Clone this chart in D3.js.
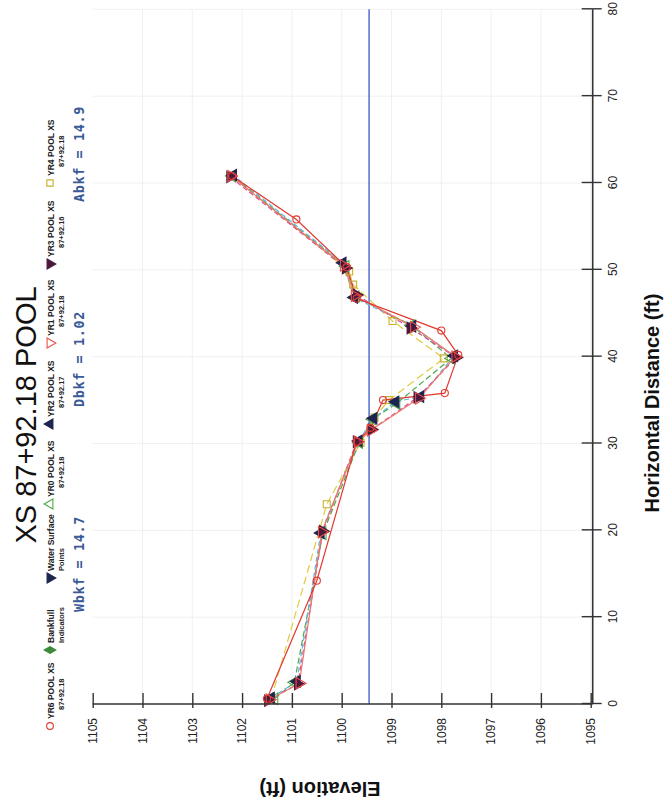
<!DOCTYPE html>
<html><head><meta charset="utf-8">
<script src="https://cdn.jsdelivr.net/npm/d3@7"></script>
<style>body{margin:0;background:#fff}svg{display:block}</style>
</head><body><svg id="c" width="664" height="810"></svg>
<script>
// ---------- data ----------
const distanceTicks = [0, 10, 20, 30, 40, 50, 60, 70, 80];
const elevationTicks = [1095, 1096, 1097, 1098, 1099, 1100, 1101, 1102, 1103, 1104, 1105];

const yr0 = [[0.6,1101.35],[2.5,1100.95],[19.6,1100.38],[30.1,1099.65],[32.8,1099.38],[34.6,1098.9],[39.8,1097.8],[43.6,1098.6],[46.9,1099.72],[50.4,1099.92],[60.8,1102.2]];
const yr1 = [[0.5,1101.45],[2.4,1100.85],[19.8,1100.4],[30.2,1099.68],[31.5,1099.42],[35.2,1098.45],[40.0,1097.72],[43.4,1098.55],[47.0,1099.74],[50.5,1099.96],[60.8,1102.22]];
const yr2 = [[0.7,1101.42],[2.6,1100.9],[19.7,1100.42],[30.3,1099.66],[32.9,1099.36],[34.8,1098.92],[35.4,1098.42],[40.1,1097.74],[43.5,1098.58],[46.8,1099.75],[50.8,1099.98],[60.9,1102.18]];
const yr3 = [[0.4,1101.48],[2.3,1100.88],[19.9,1100.38],[30.2,1099.7],[31.6,1099.4],[35.3,1098.48],[39.9,1097.7],[43.3,1098.62],[47.1,1099.7],[50.2,1099.92],[60.7,1102.24]];
const yr4 = [[0.5,1101.42],[23.0,1100.3],[30.1,1099.62],[33.0,1099.34],[35.0,1099.05],[39.8,1097.95],[44.1,1098.98],[48.3,1099.77],[49.8,1099.85],[60.8,1102.2]];
const yr6 = [[0.6,1101.5],[14.2,1100.5],[30.2,1099.7],[31.8,1099.42],[35.0,1099.17],[35.8,1097.93],[40.2,1097.66],[43.0,1098.0],[46.7,1099.7],[50.3,1099.9],[55.8,1100.91],[60.8,1102.2]];
const waterSurface = [[0,1099.45],[80,1099.45]];
const bankfullIndicators = [];

const legendLine1 = ["YR6 POOL XS","Bankfull","Water Surface","YR0 POOL XS","YR2 POOL XS","YR1 POOL XS","YR3 POOL XS","YR4 POOL XS"];
const legendLine2 = ["87+92.18","Indicators","Points","87+92.18","87+92.17","87+92.18","87+92.16","87+92.18"];
const bkfLabels = ["Wbkf = 14.7","Dbkf = 1.02","Abkf = 14.9"];
const titleText = "XS 87+92.18 POOL";

// ---------- styles / layout ----------
const styles = {
  yr0:{stroke:"#4fa84a", dash:"6,3", sym:d3.symbolTriangle, rot:0, fill:"none", mcol:"#4fa84a"},
  yr1:{stroke:"#f07868", dash:null, sym:d3.symbolTriangle, rot:180, fill:"none", mcol:"#e8504a"},
  yr2:{stroke:"#5ab8e0", dash:"5,3", sym:d3.symbolTriangle, rot:0, fill:"#1c2450", mcol:"#1c2450"},
  yr3:{stroke:"#d84aa0", dash:"5,3", sym:d3.symbolTriangle, rot:180, fill:"#4a1a3c", mcol:"#4a1a3c"},
  yr4:{stroke:"#e0cc40", dash:"8,4", sym:d3.symbolSquare, rot:0, fill:"none", mcol:"#c8b030"},
  yr6:{stroke:"#e23a30", dash:null, sym:d3.symbolCircle, rot:0, fill:"none", mcol:"#e23a30"}
};
const seriesData = {yr0, yr1, yr2, yr3, yr4, yr6};
const drawOrder = ["yr4","yr0","yr2","yr3","yr1","yr6"];

const svg = d3.select("#c");
const g = svg.append("g").attr("transform","translate(0,810) rotate(-90)");

const x = d3.scaleLinear().domain([0,80]).range([106,800.7]);
const y = d3.scaleLinear().domain([1095,1105]).range([590.7,92.7]);
const axisV = 592.7, axisU = 106;

// faint grid
const grid = g.append("g").attr("stroke","#f0f0f0").attr("stroke-width",1);
grid.selectAll("line.h").data(elevationTicks.slice(0,-1)).join("line")
  .attr("x1",axisU).attr("x2",x(80)).attr("y1",d=>y(d)).attr("y2",d=>y(d));
grid.selectAll("line.v").data(distanceTicks.slice(1)).join("line")
  .attr("x1",d=>x(d)).attr("x2",d=>x(d)).attr("y1",y(1105)).attr("y2",axisV);

// water surface
const line = d3.line().x(d=>x(d[0])).y(d=>y(d[1]));
g.append("path").datum(waterSurface).attr("d",line)
  .attr("fill","none").attr("stroke","#4862c8").attr("stroke-width",1.4);

// series lines
drawOrder.forEach(k=>{
  const s = styles[k];
  g.append("path").datum(seriesData[k]).attr("d",line)
    .attr("fill","none").attr("stroke",s.stroke).attr("stroke-width",1.2)
    .attr("stroke-dasharray",s.dash);
});
// markers
drawOrder.forEach(k=>{
  const s = styles[k];
  const sz = s.sym===d3.symbolCircle ? 40 : (s.sym===d3.symbolSquare ? 48 : 56);
  g.append("g").selectAll("path").data(seriesData[k]).join("path")
    .attr("d", d3.symbol().type(s.sym).size(sz))
    .attr("transform", d=>`translate(${x(d[0])},${y(d[1])}) rotate(${s.rot})`)
    .attr("fill", s.fill).attr("stroke", s.mcol).attr("stroke-width",1.1);
});

// axes
const ax = g.append("g").attr("stroke","#333").attr("stroke-width",1.6);
ax.append("line").attr("x1",axisU).attr("x2",axisU).attr("y1",y(1105)).attr("y2",axisV);
ax.append("line").attr("x1",axisU).attr("x2",x(80)).attr("y1",axisV).attr("y2",axisV);

const xAxis = g.append("g").attr("transform",`translate(0,${axisV})`)
  .call(d3.axisBottom(x).tickValues(distanceTicks).tickSize(9).tickSizeOuter(0).tickPadding(7));
xAxis.select(".domain").remove();
xAxis.selectAll(".tick line").attr("y1",-11).attr("stroke","#333").attr("stroke-width",1.4);
xAxis.selectAll(".tick text").attr("font-family","Liberation Sans, Arial, sans-serif")
  .attr("font-size",12).attr("fill","#222");

const yAxis = g.append("g").attr("transform",`translate(${axisU},0)`)
  .call(d3.axisLeft(y).tickValues(elevationTicks).tickSize(4).tickSizeOuter(0).tickPadding(10).tickFormat(d3.format("d")));
yAxis.select(".domain").remove();
yAxis.selectAll(".tick line").attr("x1",11).attr("stroke","#333").attr("stroke-width",1.4);
yAxis.selectAll(".tick text").attr("font-family","Liberation Sans, Arial, sans-serif")
  .attr("font-size",12).attr("fill","#222");

// axis titles
g.append("text").attr("x",407).attr("y",659).attr("text-anchor","middle")
  .attr("font-family","Liberation Sans, Arial, sans-serif").attr("font-weight","bold")
  .attr("font-size",20).attr("fill","#111").text("Horizontal Distance (ft)");
g.append("text").attr("transform","translate(28,320) rotate(-90)").attr("text-anchor","middle")
  .attr("font-family","Liberation Sans, Arial, sans-serif").attr("font-weight","bold")
  .attr("font-size",20).attr("fill","#111").text("Elevation (ft)");

// title
g.append("text").attr("x",395).attr("y",36).attr("text-anchor","middle")
  .attr("font-family","Liberation Sans, Arial, sans-serif")
  .attr("font-size",29).attr("fill","#111").text(titleText);

// legend
const legendU = [84,160,232,306,386,467,546,627];
const legendSym = [
  {sym:d3.symbolCircle,rot:0,fill:"none",col:"#e23a30",sz:36},
  {sym:d3.symbolDiamond,rot:0,fill:"#3d8a3a",col:"#3d8a3a",sz:40},
  {sym:d3.symbolTriangle,rot:180,fill:"#1c2450",col:"#1c2450",sz:44},
  {sym:d3.symbolTriangle,rot:0,fill:"none",col:"#4fa84a",sz:44},
  {sym:d3.symbolTriangle,rot:0,fill:"#1c2450",col:"#1c2450",sz:44},
  {sym:d3.symbolTriangle,rot:180,fill:"none",col:"#e8504a",sz:44},
  {sym:d3.symbolTriangle,rot:180,fill:"#4a1a3c",col:"#4a1a3c",sz:44},
  {sym:d3.symbolSquare,rot:0,fill:"none",col:"#c8b030",sz:40}
];
const leg = g.append("g");
legendLine1.forEach((t,i)=>{
  const u = legendU[i], ls = legendSym[i];
  leg.append("path").attr("d",d3.symbol().type(ls.sym).size(ls.sz))
    .attr("transform",`translate(${u},50) rotate(${ls.rot})`)
    .attr("fill",ls.fill).attr("stroke",ls.col).attr("stroke-width",1.1);
  leg.append("text").attr("x",u+7).attr("y",53.5)
    .attr("font-family","Liberation Sans Narrow, Liberation Sans, Arial, sans-serif")
    .attr("font-weight","bold").attr("font-size",8.5).attr("fill","#222").text(t);
  leg.append("text").attr("x",u+7+ (i===0||i>=3 ? 9 : 0)).attr("y",63.5)
    .attr("font-family","Liberation Sans Narrow, Liberation Sans, Arial, sans-serif")
    .attr("font-weight","bold").attr("font-size",7.5).attr("fill","#222").text(legendLine2[i]);
});

// bankfull labels
const bkfU = [246,451,656];
bkfLabels.forEach((t,i)=>{
  g.append("text").attr("x",bkfU[i]).attr("y",84).attr("text-anchor","middle")
    .attr("font-family","DejaVu Sans Mono, monospace").attr("font-weight","bold")
    .attr("font-size",13.5).attr("letter-spacing",0.6).attr("fill","#3a5a98").text(t);
});
</script></body></html>
